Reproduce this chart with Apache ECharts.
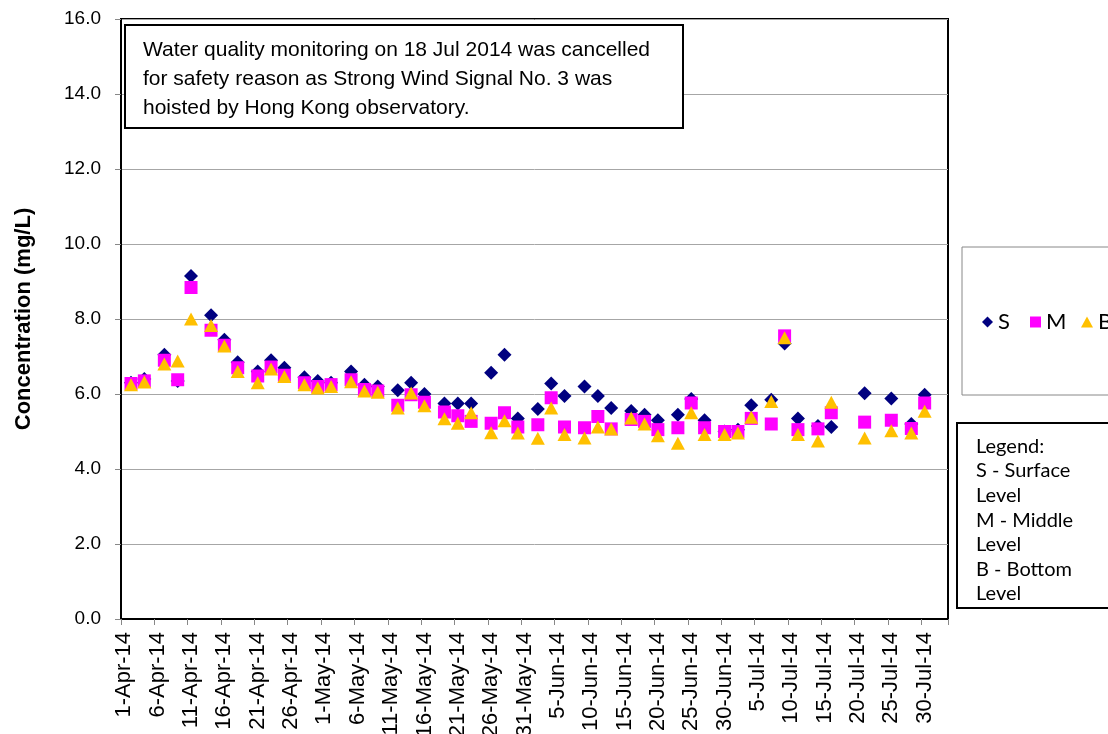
<!DOCTYPE html>
<html>
<head>
<meta charset="utf-8">
<script src="https://cdn.jsdelivr.net/npm/echarts@6/dist/echarts.min.js"></script>
<style>
html,body{margin:0;padding:0;background:#fff;}
#chart{width:1108px;height:734px;}
</style>
</head>
<body>
<div id="chart"></div>
<script>
// ---- data ----
const sampleDates = [
  '2-Apr-14','4-Apr-14','7-Apr-14','9-Apr-14','11-Apr-14','14-Apr-14','16-Apr-14','18-Apr-14','21-Apr-14','23-Apr-14','25-Apr-14','28-Apr-14','30-Apr-14',
  '2-May-14','5-May-14','7-May-14','9-May-14','12-May-14','14-May-14','16-May-14','19-May-14','21-May-14','23-May-14','26-May-14','28-May-14','30-May-14',
  '2-Jun-14','4-Jun-14','6-Jun-14','9-Jun-14','11-Jun-14','13-Jun-14','16-Jun-14','18-Jun-14','20-Jun-14','23-Jun-14','25-Jun-14','27-Jun-14','30-Jun-14',
  '2-Jul-14','4-Jul-14','7-Jul-14','9-Jul-14','11-Jul-14','14-Jul-14','16-Jul-14','21-Jul-14','25-Jul-14','28-Jul-14','30-Jul-14'
];
const surface = [
  6.30,6.40,7.05,6.35,9.15,8.10,7.45,6.85,6.60,6.90,6.70,6.45,6.35,
  6.30,6.60,6.25,6.20,6.10,6.30,6.00,5.75,5.75,5.75,6.57,7.05,5.35,
  5.60,6.28,5.95,6.20,5.95,5.63,5.55,5.45,5.30,5.45,5.87,5.30,5.00,
  5.05,5.70,5.85,7.35,5.35,5.15,5.12,6.02,5.88,5.20,5.98
];
const middle = [
  6.28,6.35,6.90,6.38,8.84,7.70,7.30,6.70,6.48,6.72,6.50,6.30,6.20,
  6.25,6.38,6.12,6.08,5.70,5.98,5.78,5.52,5.42,5.27,5.22,5.50,5.12,
  5.18,5.90,5.12,5.10,5.40,5.07,5.32,5.27,5.05,5.10,5.76,5.10,5.00,
  5.00,5.35,5.20,7.55,5.05,5.07,5.50,5.25,5.30,5.08,5.76
];
const bottom = [
  6.25,6.32,6.80,6.88,8.00,7.83,7.28,6.60,6.30,6.67,6.47,6.25,6.16,
  6.20,6.33,6.08,6.05,5.63,6.03,5.69,5.34,5.22,5.50,4.97,5.29,4.96,
  4.82,5.63,4.92,4.83,5.12,5.07,5.36,5.20,4.89,4.69,5.50,4.92,4.92,
  4.96,5.38,5.80,7.50,4.92,4.75,5.78,4.83,5.02,4.96,5.54
];
const seriesNames = ['S','M','B'];
const yTickLabels = ['0.0','2.0','4.0','6.0','8.0','10.0','12.0','14.0','16.0'];
const noteLines = [
  'Water quality monitoring on 18 Jul 2014 was cancelled',
  'for safety reason as Strong Wind Signal No. 3 was',
  'hoisted by Hong Kong observatory.'
];
const legendNoteLines = ['Legend:','S - Surface','Level','M - Middle','Level','B - Bottom','Level'];

// ---- axis categories: one per day, 1-Apr-14 .. 2-Aug-14 ----
const monthNames = ['Jan','Feb','Mar','Apr','May','Jun','Jul','Aug','Sep','Oct','Nov','Dec'];
const categories = [];
for (let t = Date.UTC(2014,3,1); t <= Date.UTC(2014,7,2); t += 86400000) {
  const d = new Date(t);
  categories.push(d.getUTCDate() + '-' + monthNames[d.getUTCMonth()] + '-14');
}
const pairs = vals => sampleDates.map((dt, i) => [dt, vals[i]]);

const chart = echarts.init(document.getElementById('chart'), null, {renderer:'canvas'});
const AX = 'Liberation Sans';
const legendText = {fontFamily:'Lato',fontSize:22,color:'#000'};
chart.setOption({
  backgroundColor:'#fff',
  animation:false,
  grid:{left:121,right:160,top:19,bottom:115,show:true,borderColor:'#000',borderWidth:2,containLabel:false,outerBoundsMode:'none'},
  xAxis:{
    type:'category',
    data:categories,
    boundaryGap:true,
    axisLine:{show:true,lineStyle:{color:'#000',width:2}},
    axisTick:{show:true,interval:4,length:6,lineStyle:{color:'#888',width:1}},
    axisLabel:{interval:4,rotate:90,margin:13,color:'#000',fontFamily:AX,fontSize:22},
    splitLine:{show:false}
  },
  yAxis:{
    type:'value',min:0,max:16,interval:2,
    name:'Concentration (mg/L)',
    nameLocation:'middle',nameGap:86,nameRotate:90,
    nameTextStyle:{fontFamily:AX,fontWeight:'bold',fontSize:22,color:'#000'},
    axisLine:{show:true,lineStyle:{color:'#000',width:2}},
    axisTick:{show:true,inside:false,length:6,lineStyle:{color:'#888'}},
    axisLabel:{margin:20,color:'#000',fontFamily:AX,fontSize:19,
      formatter:v => yTickLabels[Math.round(v/2)]},
    splitLine:{show:true,lineStyle:{color:'#a6a6a6',width:1}}
  },
  legend:[
    {data:[{name:'S',icon:'diamond'}],left:982,top:311,padding:0,itemWidth:11,itemHeight:11,itemGap:0,textStyle:legendText},
    {data:[{name:'M',icon:'rect'}],left:1030,top:311,padding:0,itemWidth:11,itemHeight:11,itemGap:0,textStyle:legendText},
    {data:[{name:'B',icon:'triangle'}],left:1081,top:311,padding:0,itemWidth:12,itemHeight:11,itemGap:0,textStyle:legendText}
  ],
  series:[
    {name:seriesNames[0],type:'scatter',data:pairs(surface),symbol:'diamond',symbolSize:14,itemStyle:{color:'#000080',opacity:1},z:2},
    {name:seriesNames[1],type:'scatter',data:pairs(middle),symbol:'rect',symbolSize:13,itemStyle:{color:'#ff00ff',opacity:1},z:3},
    {name:seriesNames[2],type:'scatter',data:pairs(bottom),symbol:'triangle',symbolSize:[14,13],itemStyle:{color:'#ffc000',opacity:1},z:4}
  ],
  graphic:[
    {type:'rect',shape:{x:125,y:25,width:558,height:103},style:{fill:'#fff',stroke:'#000',lineWidth:2},z:10},
    {type:'text',x:143,y:36,style:{text:noteLines.join('\n'),font:'21px "Liberation Sans"',fill:'#000',lineHeight:29,textVerticalAlign:'top'},z:11},
    {type:'rect',shape:{x:962,y:247,width:200,height:148},style:{fill:'#fff',stroke:'#888',lineWidth:1},z:-1},
    {type:'rect',shape:{x:957,y:423,width:200,height:185},style:{fill:'#fff',stroke:'#000',lineWidth:2},z:10},
    {type:'text',x:976,y:434,style:{text:legendNoteLines.join('\n'),font:'20px Lato',fill:'#000',lineHeight:24.6,textVerticalAlign:'top'},z:11}
  ]
});
</script>
</body>
</html>
